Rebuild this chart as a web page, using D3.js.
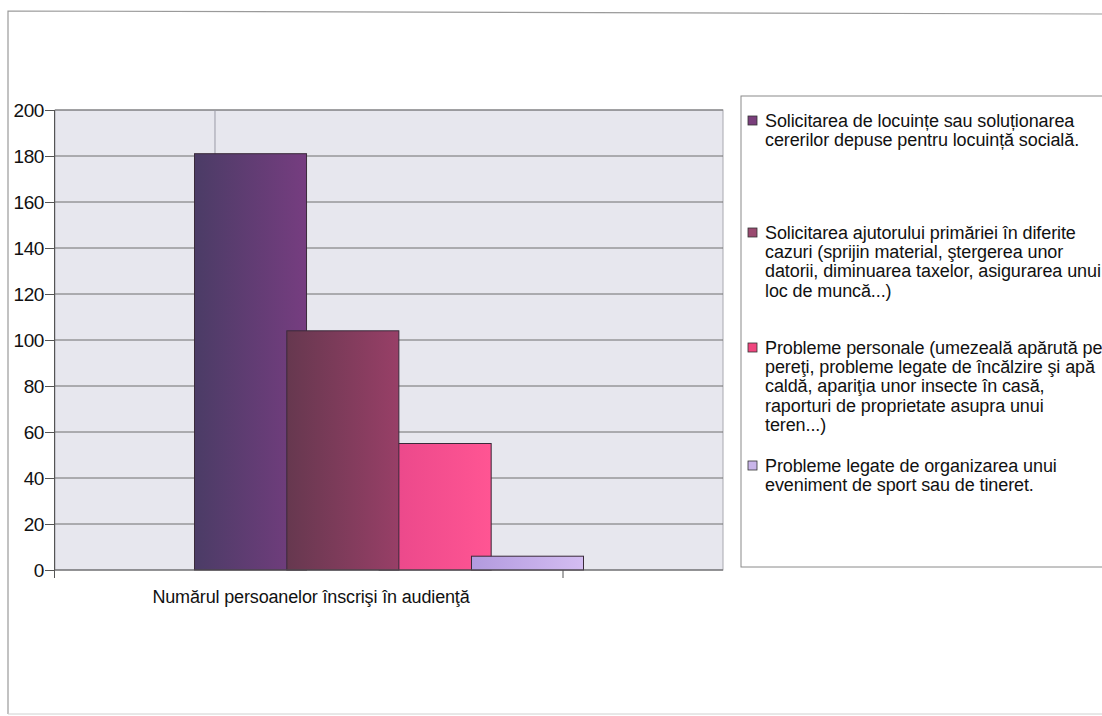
<!DOCTYPE html>
<html><head><meta charset="utf-8">
<script src="https://cdn.jsdelivr.net/npm/d3@7"></script>
<style>
html,body{margin:0;padding:0;background:#fff;}
svg{display:block;font-family:"Liberation Sans",Arial,sans-serif;}
</style></head>
<body>
<svg id="c" width="1102" height="716"></svg>
<script>
// ---- data ----
const category = "Numărul persoanelor înscrişi în audienţă";
const seriesNames = [
  ["Solicitarea de locuințe sau soluționarea", "cererilor depuse pentru locuință socială."],
  ["Solicitarea ajutorului primăriei în diferite", "cazuri (sprijin material, ştergerea unor", "datorii, diminuarea taxelor, asigurarea unui", "loc de muncă...)"],
  ["Probleme personale (umezeală apărută pe", "pereţi, probleme legate de încălzire şi apă", "caldă, apariţia unor insecte în casă,", "raporturi de proprietate asupra unui", "teren...)"],
  ["Probleme legate de organizarea unui", "eveniment de sport sau de tineret."]
];
const seriesValues = [181, 104, 55, 6];
const yTicks = [0, 20, 40, 60, 80, 100, 120, 140, 160, 180, 200];

// ---- styles ----
const barGrad = [["#4b3c66", "#763d80"], ["#66384f", "#983f67"], ["#e8478a", "#ff5593"], ["#b29ade", "#d4bdf2"]];
const swatch = ["#7a3f7c", "#9a4a70", "#f0477f", "#c9b5e9"];

const svg = d3.select("#c");
const plot = {l: 55, r: 723, t: 110, b: 570};

// outer frame
svg.append("path").attr("d", `M8,714 L8,11 L1102,14`).attr("fill", "none").attr("stroke", "#9a9a9a").attr("stroke-width", 1.2);
svg.append("line").attr("x1", 8).attr("x2", 1102).attr("y1", 714).attr("y2", 714).attr("stroke", "#d0d0d0");

const defs = svg.append("defs");
barGrad.forEach((g, i) => {
  const lg = defs.append("linearGradient").attr("id", "g" + i).attr("x1", 0).attr("x2", 1).attr("y1", 0).attr("y2", 0);
  lg.append("stop").attr("offset", "0%").attr("stop-color", g[0]);
  lg.append("stop").attr("offset", "100%").attr("stop-color", g[1]);
});

const y = d3.scaleLinear().domain([0, 200]).range([plot.b, plot.t]);
const xCat = d3.scaleBand().domain([category]).range([plot.l, plot.r]).paddingOuter(0.3586).paddingInner(0);
const bw = xCat.bandwidth();
const barW = bw * 0.288;
const xs = d3.scaleLinear().domain([0, seriesValues.length - 1]).range([0, bw - barW]);

// plot background
svg.append("rect").attr("x", plot.l).attr("y", plot.t).attr("width", plot.r - plot.l).attr("height", plot.b - plot.t)
  .attr("fill", "#e7e7ee").attr("stroke", "#a8a8b0").attr("stroke-width", 1);

// gridlines
svg.append("g").selectAll("line").data(yTicks.filter(d => d > 0)).join("line")
  .attr("x1", plot.l).attr("x2", plot.r).attr("y1", d => y(d)).attr("y2", d => y(d))
  .attr("stroke", "#6e6e6e").attr("stroke-width", 1);
// vertical gridline
const xFrac = d3.scaleLinear().domain([0, 1]).range([plot.l, plot.r]);
svg.append("line").attr("x1", xFrac(0.2395)).attr("x2", xFrac(0.2395)).attr("y1", plot.t).attr("y2", plot.b)
  .attr("stroke", "#9a9aa6").attr("stroke-width", 1);

// bars (drawing order to mimic overlap)
const order = [0, 2, 1, 3];
svg.append("g").selectAll("rect").data(order).join("rect")
  .attr("x", i => xCat(category) + xs(i))
  .attr("y", i => y(seriesValues[i]))
  .attr("width", barW)
  .attr("height", i => y(0) - y(seriesValues[i]))
  .attr("fill", i => `url(#g${i})`)
  .attr("stroke", "#3a2a3a").attr("stroke-width", 1);

// y axis
const yAxis = d3.axisLeft(y).tickValues(yTicks).tickSize(10).tickPadding(1);
const ga = svg.append("g").attr("transform", `translate(${plot.l},0)`).call(yAxis);
ga.select(".domain").attr("stroke", "#555").attr("d", `M-0.5,${plot.t}V${plot.b + 8}`);
ga.selectAll(".tick line").attr("stroke", "#555");
ga.selectAll("text").attr("font-size", 19).attr("fill", "#111").attr("letter-spacing", "-0.4px")
  .attr("font-family", "'Liberation Sans',Arial,sans-serif").attr("dy", "0.36em");

// x axis
svg.append("line").attr("x1", plot.l).attr("x2", plot.r).attr("y1", plot.b).attr("y2", plot.b).attr("stroke", "#555");
svg.append("line").attr("x1", xFrac(0.7605)).attr("x2", xFrac(0.7605)).attr("y1", plot.b).attr("y2", plot.b + 8).attr("stroke", "#555");
svg.append("text").attr("x", xCat(category) + bw / 2 - 78).attr("y", 603).attr("text-anchor", "middle")
  .attr("font-size", 18).attr("letter-spacing", "-0.15px").attr("fill", "#111").text(category);

// legend
svg.append("rect").attr("x", 741).attr("y", 96).attr("width", 400).attr("height", 471)
  .attr("fill", "#fff").attr("stroke", "#8a8a8a").attr("stroke-width", 1);
const legendTop = [127, 239, 354, 472];
const lh = 19.2;
const lg = svg.append("g");
seriesNames.forEach((lines, i) => {
  lg.append("rect").attr("x", 748).attr("y", legendTop[i] - 11).attr("width", 9).attr("height", 9)
    .attr("fill", swatch[i]).attr("stroke", "#333").attr("stroke-width", 0.8);
  const t = lg.append("text").attr("font-size", 18).attr("letter-spacing", "-0.1px").attr("fill", "#111");
  lines.forEach((s, k) => {
    t.append("tspan").attr("x", 765).attr("y", legendTop[i] + k * lh).text(s);
  });
});
</script>
</body></html>
